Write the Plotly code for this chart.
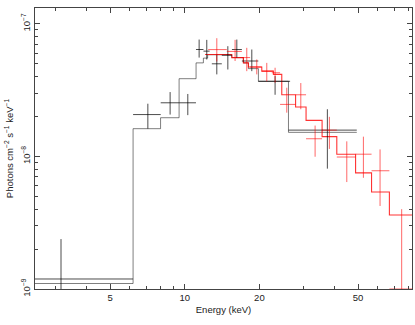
import numpy as np
import plotly.graph_objects as go

# black spectrum: data crosses (energy in keV, flux in photons cm^-2 s^-1 keV^-1)
blk_e = [3.17, 7.10, 8.73, 10.29, 11.43, 12.27, 13.47, 14.92, 16.22, 18.64, 23.14, 37.6]
blk_elo = [2.49, 6.19, 8.0, 9.5, 11.1, 11.9, 12.86, 14.11, 15.5, 17.0, 19.8, 26.2]
blk_ehi = [6.19, 8.0, 9.5, 11.1, 11.9, 12.6, 14.11, 15.5, 17.0, 19.8, 26.6, 49.4]
blk_f = [1.19e-9, 2.07e-8, 2.54e-8, 2.54e-8, 6.41e-8, 6.23e-8, 5.0e-8, 5.8e-8, 6.41e-8, 5.25e-8, 3.69e-8, 1.58e-8]
blk_fhi = [2.38e-9, 2.50e-8, 3.06e-8, 2.96e-8, 7.62e-8, 7.58e-8, 5.88e-8, 6.79e-8, 7.62e-8, 6.41e-8, 4.04e-8, 2.27e-8]
blk_flo = [1e-10, 1.62e-8, 2.07e-8, 2.05e-8, 5.57e-8, 5.39e-8, 4.16e-8, 4.53e-8, 5.57e-8, 4.40e-8, 2.92e-8, 8.09e-9]

# black model (step, bin edges + level per bin)
blk_mod_edges = [2.49, 6.19, 7.99, 9.49, 11.11, 11.89, 12.37, 15.48, 17.24, 18.06, 19.82, 26.2, 49.4]
blk_mod = [1.10e-9, 1.62e-8, 1.96e-8, 3.86e-8, 5.08e-8, 5.52e-8, 5.85e-8, 5.57e-8, 5.08e-8, 4.6e-8, 3.69e-8, 1.52e-8]

# red spectrum: data crosses
red_e = [13.47, 15.96, 17.79, 19.52, 21.42, 23.14, 25.79, 29.38, 33.55, 38.31, 45.03, 52.54, 61.33, 74.96]
red_elo = [12.43, 14.78, 17.0, 18.35, 20.45, 22.44, 24.24, 27.99, 30.85, 35.8, 41.04, 48.86, 56.67, 66.88]
red_ehi = [14.78, 17.0, 18.35, 20.45, 22.78, 24.24, 27.99, 30.85, 35.8, 41.04, 48.86, 56.67, 66.88, 82.5]
red_f = [6.4e-8, 6.2e-8, 5.57e-8, 4.73e-8, 4.40e-8, 4.28e-8, 2.47e-8, 2.92e-8, 1.36e-8, 1.58e-8, 9.9e-9, 1.04e-8, 7.8e-9, 1.0e-9]
red_fhi = [7.8e-8, 7.58e-8, 6.60e-8, 5.39e-8, 5.08e-8, 4.67e-8, 3.30e-8, 3.58e-8, 1.71e-8, 1.99e-8, 1.30e-8, 1.41e-8, 1.13e-8, 4.0e-9]
red_flo = [5.21e-8, 5.25e-8, 4.40e-8, 4.16e-8, 3.69e-8, 3.60e-8, 2.14e-8, 2.27e-8, 9.95e-9, 1.14e-8, 6.41e-9, 6.9e-9, 4.23e-9, 1e-10]

# red model
red_mod_edges = [12.08, 15.48, 17.24, 18.06, 20.45, 22.78, 24.62, 27.99, 30.85, 35.8, 41.04, 48.86, 56.67, 66.88, 82.5]
red_mod = [5.88e-8, 5.57e-8, 5.08e-8, 4.73e-8, 4.40e-8, 4.16e-8, 2.92e-8, 2.36e-8, 1.87e-8, 1.41e-8, 1.04e-8, 7.52e-9, 5.39e-9, 3.62e-9]

x_ticks = [5, 10, 20, 50]
x_minor = [3, 4, 6, 7, 8, 9, 30, 40, 60, 70, 80]
y_ticks = [1e-9, 1e-8, 1e-7]
y_ticktext = ['10<sup>\u22129</sup>', '10<sup>\u22128</sup>', '10<sup>\u22127</sup>']
y_minor = [m * 10.0 ** d for d in (-9, -8) for m in range(2, 10)]


def cross_xy(e, elo, ehi, f, flo, fhi):
    xs, ys = [], []
    for i in range(len(e)):
        xs += [elo[i], ehi[i], None, e[i], e[i], None]
        ys += [f[i], f[i], None, flo[i], fhi[i], None]
    return xs, ys


fig = go.Figure()

# models first, data on top
fig.add_trace(go.Scatter(x=blk_mod_edges, y=blk_mod + [blk_mod[-1]], mode='lines',
                         line=dict(color='rgba(0,0,0,0.5)', width=1, shape='hv')))
fig.add_trace(go.Scatter(x=red_mod_edges, y=red_mod + [red_mod[-1]], mode='lines',
                         line=dict(color='rgba(255,0,0,0.8)', width=1.1, shape='hv')))

bx, by = cross_xy(blk_e, blk_elo, blk_ehi, blk_f, blk_flo, blk_fhi)
fig.add_trace(go.Scatter(x=bx, y=by, mode='lines', line=dict(color='rgba(0,0,0,0.7)', width=1)))
rx, ry = cross_xy(red_e, red_elo, red_ehi, red_f, red_flo, red_fhi)
fig.add_trace(go.Scatter(x=rx, y=ry, mode='lines', line=dict(color='rgba(255,0,0,0.6)', width=1)))

axis_col = '#444'
font = dict(family='Liberation Sans, Arial, sans-serif', size=9.5, color='#222')

fig.update_xaxes(type='log', range=[np.log10(2.49), np.log10(82.5)],
                 tickmode='array', tickvals=x_ticks, ticktext=[str(t) for t in x_ticks],
                 ticks='inside', ticklen=5, tickcolor=axis_col, tickwidth=1,
                 showline=True, linecolor=axis_col, linewidth=1, mirror='allticks',
                 showgrid=False, zeroline=False,
                 minor=dict(tickmode='array', tickvals=x_minor, ticks='inside', ticklen=3,
                            tickcolor=axis_col, showgrid=False),
                 title=dict(text='Energy (keV)', standoff=3, font=font), tickfont=font)
fig.update_yaxes(type='log', range=[-9.0, -6.88],
                 tickmode='array', tickvals=y_ticks, ticktext=y_ticktext, tickangle=-90,
                 ticks='inside', ticklen=5, tickcolor=axis_col, tickwidth=1,
                 showline=True, linecolor=axis_col, linewidth=1, mirror='allticks',
                 showgrid=False, zeroline=False,
                 minor=dict(tickmode='array', tickvals=y_minor, ticks='inside', ticklen=3,
                            tickcolor=axis_col, showgrid=False),
                 title=dict(text='Photons cm<sup>\u22122</sup> s<sup>\u22121</sup> keV<sup>\u22121</sup>',
                            standoff=4, font=font), tickfont=font)

fig.update_layout(width=415, height=325, showlegend=False,
                  margin=dict(l=35, r=3, t=8, b=36),
                  plot_bgcolor='white', paper_bgcolor='white', font=font)

# drop the default 8px page margin so the figure sits at the window's corner
fig.write_html("out.html", config={'displayModeBar': False},
               post_script="document.body.style.margin='0';")
